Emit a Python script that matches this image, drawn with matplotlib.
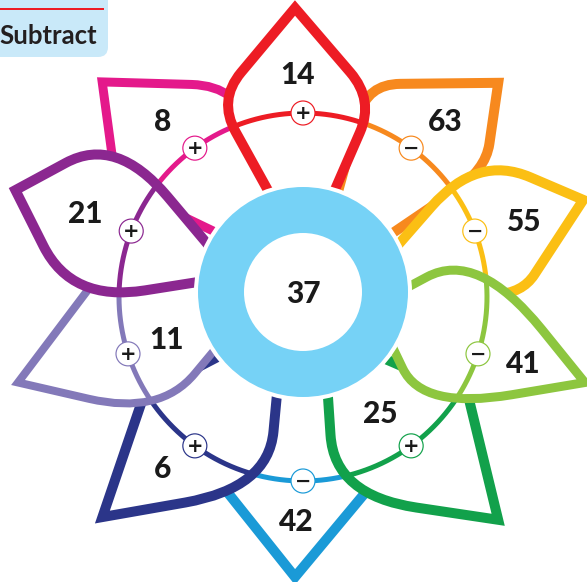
import numpy as np
import matplotlib.pyplot as plt
from matplotlib.path import Path
from matplotlib.patches import PathPatch, Circle, FancyBboxPatch

plt.rcParams['font.family'] = ['Lato', 'DejaVu Sans']

# numbers in the flower, clockwise from the top petal
center_value = 37
petal_values = [14, 63, 55, 41, 25, 42, 6, 11, 21, 8]
petal_ops = ['+', '−', '−', '−', '+', '−', '+', '+', '+', '+']
petal_colors = ['#ED1C24', '#F7891E', '#FBBF14', '#8DC63F', '#12A14B',
                '#1A9AD7', '#2B3589', '#8379B9', '#8B2790', '#E4198B']
legend_text = 'Subtract'

# layout, in pixels with y pointing down
W, H = 587, 582
cx, cy = 303, 292                      # centre disc
ring_cx, ring_cy, ring_r = 303, 297, 184
petal_angles = [90 - 36 * i for i in range(10)]
stack = [2, 1, 2, 3, 2, 1, 2, 3, 4, 1]  # which petal lies over which
line_px = [10, 10, 10, 9, 10, 10, 10, 8, 10, 9]
label_r = [219, 223, 233, 231, 143, 228, 225, 144, 232, 222]
label_da = [1.3, -3.5, 0, 0.4, -3.3, -1.8, -2.7, 0.7, -2, 3.3]
op_da = [0, 0, 3, 0, 0, 0, 0, 0, -3, 0]

# petal outlines in each petal's own frame: (out, sideways, corner rounding)
shapes = [
    [(107, 38, 0), (192, 85, 0.3), (284, 8, 0), (192, -71, 0.3), (107, -34, 0)],
    [(108, 33, 0), (206, 70, 0.25), (284, -35, 0), (206, -76, 0.3), (109, -41, 0)],
    [(111, 19, 0), (208, 77, 0.5), (295, 1, 0), (208, -69, 0.2), (105, -40, 0)],
    [(104, 43, 0), (153, 94, 0.6), (296, 1, 0), (150, -75, 0.55), (110, -33, 0)],
    [(102, -43, 0), (183, -94, 0.5), (299, 24, 0), (180, 73, 0), (109, 31, 0)],
    [(106, -41, 0), (201, -75, 0), (285, -8, 0), (201, 62, 0), (106, 39, 0)],
    [(103, 42, 0), (179, 87, 0.5), (300, -30, 0), (177, -68, 0), (109, -34, 0)],
    [(105, -55, 0), (196, -74, 0), (299, -2, 0), (174, 73, 0.5), (104, 29, 0)],
    [(112, -20, 0), (226, -91, 0.5), (305, -8, 0), (217, 81, 0.5), (107, 25, 0)],
    [(100, -32, 0), (204, -70, 0.35), (288, 39, 0), (197, 88, 0), (108, 40, 0)],
]

PT = 72 / 100  # points per pixel


def to_px(u, v, ang):
    t = np.radians(ang)
    return np.array([cx + u * np.cos(t) - v * np.sin(t),
                     cy - (u * np.sin(t) + v * np.cos(t))])


def petal_path(pts, ang):
    xy = [to_px(u, v, ang) for u, v, _ in pts]
    rnd = [f for _, _, f in pts]
    # run the open ends on under the centre disc
    for a, b in ((0, 1), (-1, -2)):
        d = xy[a] - xy[b]
        xy[a] = xy[a] + 25 * d / np.linalg.norm(d)
    verts, codes = [xy[0]], [Path.MOVETO]
    for i in range(1, len(xy) - 1):
        p, q, n = xy[i - 1], xy[i], xy[i + 1]
        if rnd[i] > 0:
            verts += [q + rnd[i] * (p - q), q, q + rnd[i] * (n - q)]
            codes += [Path.LINETO, Path.CURVE3, Path.CURVE3]
        else:
            verts.append(q)
            codes.append(Path.LINETO)
    verts.append(xy[-1])
    codes.append(Path.LINETO)
    return verts, codes


fig = plt.figure(figsize=(W / 100, H / 100), dpi=100)
ax = fig.add_axes([0, 0, 1, 1])
ax.set_xlim(0, W)
ax.set_ylim(H, 0)
ax.axis('off')

# legend box in the corner
ax.add_patch(FancyBboxPatch((-30, -30), 138, 87, boxstyle='round,pad=0,rounding_size=10',
                            fc='#C9E9F9', ec='none', zorder=1))
ax.plot([0, 103], [9, 9], color='#ED1C24', lw=2 * PT, zorder=2)
ax.text(-1, 44, legend_text, ha='left', va='baseline', fontsize=18.5,
        fontweight='bold', color='#231F20', zorder=3)

# petals with their piece of the ring
for i in range(10):
    verts, codes = petal_path(shapes[i], petal_angles[i])
    z = stack[i] * 10
    fill = PathPatch(Path(verts + [verts[0]], codes + [Path.CLOSEPOLY]),
                     fc='white', ec='none', zorder=z)
    ax.add_patch(fill)
    t = np.radians(np.linspace(petal_angles[i] - 45, petal_angles[i] + 45, 200))
    arc, = ax.plot(ring_cx + ring_r * np.cos(t), ring_cy - ring_r * np.sin(t),
                   color=petal_colors[i], lw=5 * PT, zorder=z + 1)
    arc.set_clip_path(fill)
    ax.add_patch(PathPatch(Path(verts, codes), fc='none', ec=petal_colors[i],
                           lw=line_px[i] * PT, joinstyle='miter', capstyle='butt',
                           zorder=z + 2))

# centre disc
ax.add_patch(Circle((cx, cy), 107, fc='#76D2F6', ec='white', lw=4 * PT, zorder=100))
ax.add_patch(Circle((cx, cy), 59, fc='white', ec='none', zorder=101))

num_size = 21.5
cap = 0.36 * num_size / PT
ax.text(cx, cy + cap, str(center_value), ha='center', va='baseline',
        fontsize=num_size, fontweight=900, color='#1A1A1A', zorder=120)

for i in range(10):
    a = np.radians(petal_angles[i] + op_da[i])
    ox, oy = ring_cx + ring_r * np.cos(a), ring_cy - ring_r * np.sin(a)
    ax.add_patch(Circle((ox, oy), 12, fc='white', ec=petal_colors[i], lw=1.2 * PT, zorder=110))
    ax.text(ox, oy + 0.5, petal_ops[i], ha='center', va='center', fontsize=14,
            fontweight='bold', color='#1A1A1A', family='DejaVu Sans', zorder=111)

    b = np.radians(petal_angles[i] + label_da[i])
    lx, ly = cx + label_r[i] * np.cos(b), cy - label_r[i] * np.sin(b)
    ax.text(lx, ly + cap, str(petal_values[i]), ha='center', va='baseline',
            fontsize=num_size, fontweight=900, color='#1A1A1A', zorder=120)

fig.savefig('out.png', dpi=100)
